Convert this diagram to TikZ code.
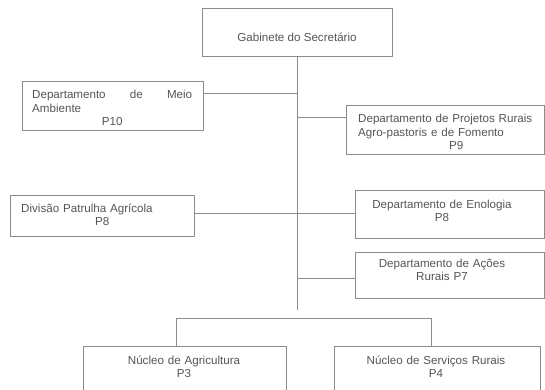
\documentclass[tikz,border=0pt]{standalone}
\usepackage{fontspec}
\setmainfont{Liberation Sans}
\definecolor{linegray}{HTML}{8C8C8C}
\definecolor{textgray}{HTML}{555555}
\begin{document}
\begin{tikzpicture}[x=1pt,y=-1pt,
  orgbox/.style={draw=linegray, line width=1pt, inner sep=0pt},
  orgtext/.style={text=textgray, inner sep=0pt,
    font={\fontsize{11.6}{13.5}\selectfont\parindent=0pt\hyphenpenalty=10000\tolerance=10000\hbadness=10000}},
  link/.style={draw=linegray, line width=1pt}]
\useasboundingbox (0,0) rectangle (545,390);

% boxes
\node[orgbox, minimum width=190pt, minimum height=48pt] (gab)   at (297,33)    {};
\node[orgbox, minimum width=181pt, minimum height=49pt] (meio)  at (112.5,106.5) {};
\node[orgbox, minimum width=198pt, minimum height=48pt] (proj)  at (445,130)   {};
\node[orgbox, minimum width=184pt, minimum height=41pt] (div)   at (102,215.5) {};
\node[orgbox, minimum width=189pt, minimum height=48pt] (eno)   at (449.5,214) {};
\node[orgbox, minimum width=189pt, minimum height=46pt] (acoes) at (449.5,275) {};
\node[orgbox, minimum width=203pt, minimum height=54pt] (agr)   at (184.5,373) {};
\node[orgbox, minimum width=206pt, minimum height=54pt] (serv)  at (437,373)   {};

% box texts (anchored on the baseline of their first line)
\node[orgtext, anchor=base] (t-gab) at (297,42) {Gabinete do Secretário};
\node[orgtext, text width=160pt, align=justify, anchor=base west] (t-meio) at (32,99)
  {Departamento de Meio Ambiente\par\centering P10\par};
\node[orgtext, text width=190pt, align=left, anchor=base west] (t-proj) at (358,123)
  {Departamento de Projetos Rurais\\Agro-pastoris e de Fomento\\\hspace*{91pt}P9};
\node[orgtext, text width=162pt, anchor=base west] (t-div) at (21,212)
  {Divisão Patrulha Agrícola\par\centering P8\par};
\node[orgtext, text width=180pt, align=center, anchor=base] (t-eno) at (442,208) {Departamento de Enologia\\P8};
\node[orgtext, text width=180pt, align=center, anchor=base] (t-acoes) at (442,267) {Departamento de Ações\\Rurais P7};
\node[orgtext, text width=190pt, align=center, anchor=base] (t-agr) at (184,364) {Núcleo de Agricultura\\P3};
\node[orgtext, text width=190pt, align=center, anchor=base] (t-serv) at (436,364) {Núcleo de Serviços Rurais\\P4};

% junction points on the central trunk
\coordinate (trunk-end) at (297,310);
\coordinate (j-meio)  at (297,94);
\coordinate (j-proj)  at (297,118);
\coordinate (j-div)   at (297,213);
\coordinate (j-acoes) at (297,278);
\coordinate (bar-l) at (176,318);
\coordinate (bar-r) at (431,318);

% connectors
\draw[link] (gab.south) -- (trunk-end);
\draw[link] (meio.east |- j-meio) -- (j-meio);
\draw[link] (j-proj) -- (proj.west |- j-proj);
\draw[link] (div.east |- j-div) -- (eno.west |- j-div);
\draw[link] (j-acoes) -- (acoes.west |- j-acoes);
\draw[link] (bar-l) -- (bar-r);
\draw[link] (bar-l) -- (bar-l |- agr.north);
\draw[link] (bar-r) -- (bar-r |- serv.north);
\end{tikzpicture}
\end{document}
